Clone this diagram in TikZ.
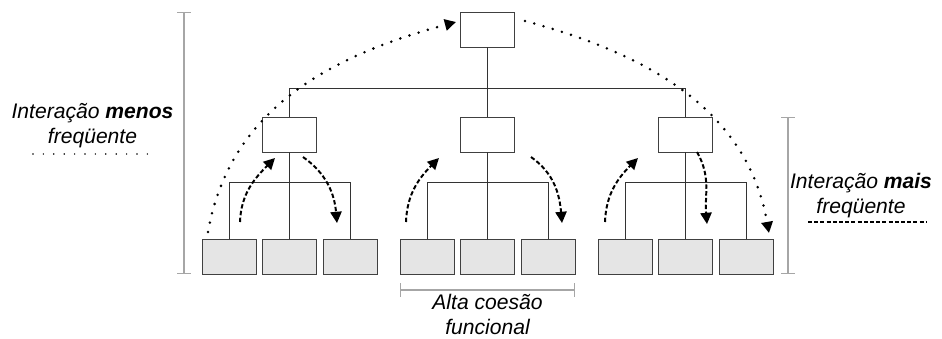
\documentclass[tikz,border=0pt]{standalone}
\usepackage{fontspec}
\setmainfont{Liberation Sans}
\usetikzlibrary{positioning,arrows.meta}
\tikzset{
  unit/.style={draw=black!75, line width=0.7pt, minimum width=1.35cm, minimum height=0.875cm, inner sep=0pt},
  leaf/.style={unit, fill=black!10},
  link/.style={black!80, line width=0.7pt},
  flow/.style={line width=1.4pt, dash pattern=on 1.1mm off 0.6mm, -{Triangle[length=2.8mm,width=2.8mm]}},
  far/.style={line width=2pt, line cap=round, dash pattern=on 0pt off 2.4mm, -{Triangle[length=2.8mm,width=2.8mm]}},
  span/.style={black!35, line width=0.8pt, {Bar[width=3.3mm]}-{Bar[width=3.3mm]}},
  note/.style={align=center, inner sep=0pt, font=\fontsize{15}{17.8}\selectfont\itshape}
}
\begin{document}
\begin{tikzpicture}[node distance=1.5125cm]
    \useasboundingbox (0,0) rectangle (23.55,8.45);
    % Define Nodes
    \node[unit] (t) at (12.1875,7.7125) {};
    \node[unit] (m2) [below of=t, node distance=2.625cm] {};
    \node[unit] (m1) [left of=m2, node distance=4.95cm] {};
    \node[unit] (m3) [right of=m2, node distance=4.95cm] {};

    \node[leaf] (b12) [below of=m1, node distance=3.05cm] {};
    \node[leaf] (b11) [left of=b12] {};
    \node[leaf] (b13) [right of=b12] {};
    \node[leaf] (b22) [below of=m2, node distance=3.05cm] {};
    \node[leaf] (b21) [left of=b22] {};
    \node[leaf] (b23) [right of=b22] {};
    \node[leaf] (b32) [below of=m3, node distance=3.05cm] {};
    \node[leaf] (b31) [left of=b32] {};
    \node[leaf] (b33) [right of=b32] {};

    \coordinate (jt) at ([yshift=0.7cm]m2.north);
    \coordinate (j1) at ([yshift=1.4cm]b12.north);
    \coordinate (j2) at ([yshift=1.4cm]b22.north);
    \coordinate (j3) at ([yshift=1.4cm]b32.north);

    % Draw Edges
    \draw[link] (t) -- (m2);
    \draw[link] (m1.north) |- (jt) -| (m3.north);
    \draw[link] (m1) -- (b12);
    \draw[link] (b11.north) |- (j1) -| (b13.north);
    \draw[link] (m2) -- (b22);
    \draw[link] (b21.north) |- (j2) -| (b23.north);
    \draw[link] (m3) -- (b32);
    \draw[link] (b31.north) |- (j3) -| (b33.north);

    % Interactions
    \coordinate (u1a) at (6.0,2.9);     \coordinate (u1b) at (6.875,4.5);
    \coordinate (d1a) at (7.575,4.525); \coordinate (d1b) at (8.425,2.875);
    \coordinate (u2a) at (10.15,2.9);   \coordinate (u2b) at (10.975,4.5);
    \coordinate (d2a) at (13.275,4.525);\coordinate (d2b) at (14.05,2.875);
    \coordinate (u3a) at (15.125,2.9);  \coordinate (u3b) at (15.95,4.5);
    \coordinate (d3a) at (17.425,4.65); \coordinate (d3b) at (17.675,2.85);
    \coordinate (fla) at (5.2,2.65);    \coordinate (flb) at (11.4,7.9);
    \coordinate (fra) at (13.125,7.925);\coordinate (frb) at (19.225,2.625);

    \draw[flow] (u1a) to[out=88,in=225] (u1b);
    \draw[flow] (d1a) to[out=-35,in=95] (d1b);
    \draw[flow] (u2a) to[out=88,in=225] (u2b);
    \draw[flow] (d2a) to[out=-35,in=95] (d2b);
    \draw[flow] (u3a) to[out=88,in=225] (u3b);
    \draw[flow] (d3a) to[out=-60,in=95] (d3b);
    \draw[far] (fla) to[out=80,in=195] (flb);
    \draw[far] (fra) to[out=-15,in=100] (frb);

    % Brackets
    \draw[span] (4.6,0 |- t.north) -- (4.6,0 |- b11.south);
    \draw[span] (19.7,0 |- m3.north) -- (19.7,0 |- b33.south);
    \draw[span] (b21.west |- 0,1.2) -- (b23.east |- 0,1.2);

    % Labels
    \node[note] (less) at (2.3125,5.3) {Interação \textbf{menos}\\freqüente};
    \node[note] (more) at (21.525,3.55) {Interação \textbf{mais}\\freqüente};
    \node[note] (coh) at (12.1875,0.6) {Alta coesão\\funcional};
    \draw[line width=1.2pt, line cap=round, dash pattern=on 0pt off 2.6mm] (0.825,4.6) -- (3.7,4.6);
    \draw[line width=0.8pt, dash pattern=on 1mm off 0.55mm] (20.2,2.9) -- (23.175,2.9);
\end{tikzpicture}
\end{document}
